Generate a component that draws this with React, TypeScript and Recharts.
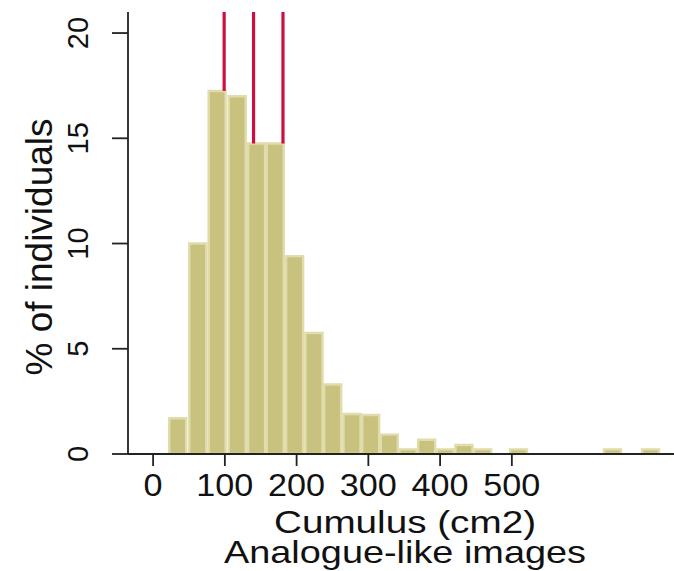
import React from 'react';
import { ComposedChart, Bar, XAxis, YAxis, ReferenceLine } from 'recharts';

// Histogram bins: centre of each drawn bin (cm2) and its share of individuals (%)
const binCenters = [34, 62, 89, 117, 144, 170, 197, 224, 250, 277, 303, 329, 355, 381, 407, 433, 459, 509, 640, 693];
const binPercents = [1.7, 10.0, 17.25, 17.0, 14.75, 14.75, 9.4, 5.75, 3.3, 1.9, 1.85, 0.92, 0.22, 0.68, 0.22, 0.43, 0.22, 0.22, 0.22, 0.22];

// Red reference lines (quartiles) and the bar top each one stops at
const quartileValues = [99, 140, 181];
const quartileBarTops = [17.25, 14.75, 14.75];

const xTicks = [0, 100, 200, 300, 400, 500];
const yTicks = [0, 5, 10, 15, 20];
const xTitle = 'Cumulus (cm2)';
const xSubtitle = 'Analogue-like images';
const yTitle = '% of individuals';

const data = binCenters.map((x, i) => ({ x, pct: binPercents[i] }));

const FONT = '"Liberation Sans", Arial, sans-serif';
const AXIS = '#222222';
const TEXT = '#111111';

const XTick = (props: any) => {
  const { x, y, payload } = props;
  const s = String(payload.value);
  return (
    <text
      x={x}
      y={y}
      dy={28}
      textAnchor="middle"
      fontFamily={FONT}
      fontSize={31}
      fill={TEXT}
      textLength={19 * s.length}
      lengthAdjust="spacingAndGlyphs"
    >
      {s}
    </text>
  );
};

const YTick = (props: any) => {
  const { x, y, payload } = props;
  const bx = x - 22;
  return (
    <text
      x={bx}
      y={y}
      transform={`rotate(-90, ${bx}, ${y})`}
      textAnchor="middle"
      fontFamily={FONT}
      fontSize={29}
      fill={TEXT}
    >
      {payload.value}
    </text>
  );
};

const XTitle = (props: any) => {
  const vb = props.viewBox || {};
  const cx = vb.x + vb.width / 2 + 4;
  const top = vb.y;
  return (
    <g>
      <text
        x={cx}
        y={top + 79}
        textAnchor="middle"
        fontFamily={FONT}
        fontSize={32}
        fill={TEXT}
        textLength={262}
        lengthAdjust="spacingAndGlyphs"
      >
        {xTitle}
      </text>
      <text
        x={cx}
        y={top + 109}
        textAnchor="middle"
        fontFamily={FONT}
        fontSize={32}
        fill={TEXT}
        textLength={362}
        lengthAdjust="spacingAndGlyphs"
      >
        {xSubtitle}
      </text>
    </g>
  );
};

const YTitle = (props: any) => {
  const vb = props.viewBox || {};
  const bx = 52;
  const cy = vb.y + vb.height / 2 + 14;
  return (
    <text
      x={bx}
      y={cy}
      transform={`rotate(-90, ${bx}, ${cy})`}
      textAnchor="middle"
      fontFamily={FONT}
      fontSize={37}
      fill={TEXT}
    >
      {yTitle}
    </text>
  );
};

export default function App() {
  return (
    <div style={{ position: 'absolute', left: 0, top: 0, width: 674, height: 571, background: '#fff' }}>
      <ComposedChart width={674} height={571} data={data} margin={{ top: 12, right: 0, bottom: 0, left: 0 }}>
        <XAxis
          dataKey="x"
          type="number"
          domain={[-35, 726]}
          ticks={xTicks}
          allowDataOverflow
          height={117}
          tickSize={12}
          tick={<XTick />}
          axisLine={{ stroke: AXIS, strokeWidth: 1.8 }}
          tickLine={{ stroke: AXIS, strokeWidth: 1.8 }}
          label={<XTitle />}
        />
        <YAxis
          type="number"
          domain={[0, 21]}
          ticks={yTicks}
          allowDataOverflow
          width={128}
          tickSize={16}
          tick={<YTick />}
          axisLine={{ stroke: AXIS, strokeWidth: 1.8 }}
          tickLine={{ stroke: AXIS, strokeWidth: 1.8 }}
          label={<YTitle />}
        />
        <Bar
          dataKey="pct"
          fill="#c9c27f"
          stroke="#e0dcac"
          strokeWidth={2.4}
          barSize={17}
          isAnimationActive={false}
        />
        {quartileValues.map((q, i) => (
          <ReferenceLine
            key={q}
            segment={[
              { x: q, y: quartileBarTops[i] },
              { x: q, y: 21 },
            ]}
            stroke="#cc0f3f"
            strokeWidth={3.2}
          />
        ))}
      </ComposedChart>
    </div>
  );
}
